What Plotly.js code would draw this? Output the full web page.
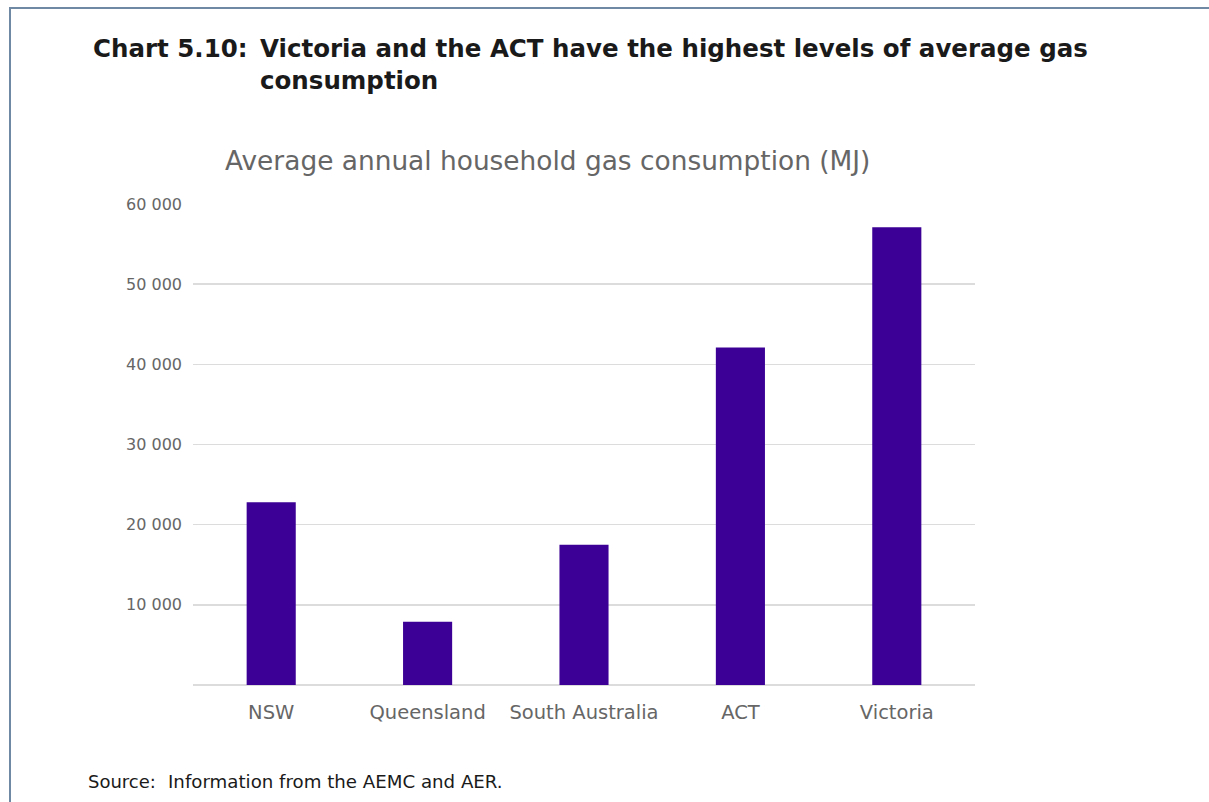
<!DOCTYPE html>
<html>
<head>
<meta charset="utf-8">
<script src="https://cdn.plot.ly/plotly-3.0.1.min.js"></script>
<style>
html,body{margin:0;padding:0;background:#fff;}
#wrap{position:relative;width:1209px;height:802px;overflow:hidden;}
#chart{position:absolute;left:0;top:0;width:1209px;height:802px;}
#frame{position:absolute;left:9px;top:7px;width:1300px;height:900px;border-left:2px solid #6f88a3;border-top:2px solid #6f88a3;pointer-events:none;}
</style>
</head>
<body>
<div id="wrap"><div id="chart"></div><div id="frame"></div></div>
<script>
const categories = ["NSW", "Queensland", "South Australia", "ACT", "Victoria"];
const consumption = [22800, 7900, 17500, 42100, 57100];
const tickValues = [10000, 20000, 30000, 40000, 50000, 60000];
const tickLabels = ["10 000", "20 000", "30 000", "40 000", "50 000", "60 000"];

const W = 782, H = 481, L = 193, T = 204;
const px = v => (v - L) / W;
const py = v => 1 - (v - T) / H;
const sans = "DejaVu Sans, Liberation Sans, Arial, sans-serif";

const trace = {
  type: "bar",
  x: categories,
  y: consumption,
  marker: {color: "#3c0096"},
  hoverinfo: "x+y"
};

const layout = {
  width: 1209,
  height: 802,
  margin: {l: L, r: 1209 - L - W, t: T, b: 802 - T - H},
  paper_bgcolor: "#ffffff",
  plot_bgcolor: "#ffffff",
  showlegend: false,
  bargap: 0.686,
  font: {family: sans, color: "#666666"},
  xaxis: {
    type: "category",
    showgrid: false,
    zeroline: false,
    showline: false,
    ticks: "",
    tickfont: {size: 19.5, color: "#666666", family: sans},
    ticklabelstandoff: 13
  },
  yaxis: {
    range: [0, 60000],
    tickvals: tickValues,
    ticktext: tickLabels,
    showgrid: true,
    gridcolor: "#dcdcdc",
    gridwidth: 1.5,
    zeroline: true,
    zerolinecolor: "#dcdcdc",
    zerolinewidth: 1.5,
    showline: false,
    ticks: "",
    tickfont: {size: 16, color: "#666666", family: sans},
    ticklabelstandoff: 10
  },
  annotations: [
    {text: "<b>Chart 5.10:</b>", xref: "paper", yref: "paper", x: px(91), y: py(48), xanchor: "left", yanchor: "middle", showarrow: false, font: {size: 24.5, color: "#1a1a1a", family: sans}},
    {text: "<b>Victoria and the ACT have the highest levels of average gas</b>", xref: "paper", yref: "paper", x: px(258), y: py(48), xanchor: "left", yanchor: "middle", showarrow: false, font: {size: 24.5, color: "#1a1a1a", family: sans}},
    {text: "<b>consumption</b>", xref: "paper", yref: "paper", x: px(258), y: py(81), xanchor: "left", yanchor: "middle", showarrow: false, font: {size: 24.5, color: "#1a1a1a", family: sans}},
    {text: "Average annual household gas consumption (MJ)", xref: "paper", yref: "paper", x: px(547), y: py(160), xanchor: "center", yanchor: "middle", showarrow: false, font: {size: 26.4, color: "#666666", family: sans}},
    {text: "Source:", xref: "paper", yref: "paper", x: px(86), y: py(781), xanchor: "left", yanchor: "middle", showarrow: false, font: {size: 18, color: "#1a1a1a", family: sans}},
    {text: "Information from the AEMC and AER.", xref: "paper", yref: "paper", x: px(166), y: py(781), xanchor: "left", yanchor: "middle", showarrow: false, font: {size: 18.2, color: "#1a1a1a", family: sans}}
  ]
};

Plotly.newPlot("chart", [trace], layout, {displayModeBar: false, staticPlot: true});
</script>
</body>
</html>
